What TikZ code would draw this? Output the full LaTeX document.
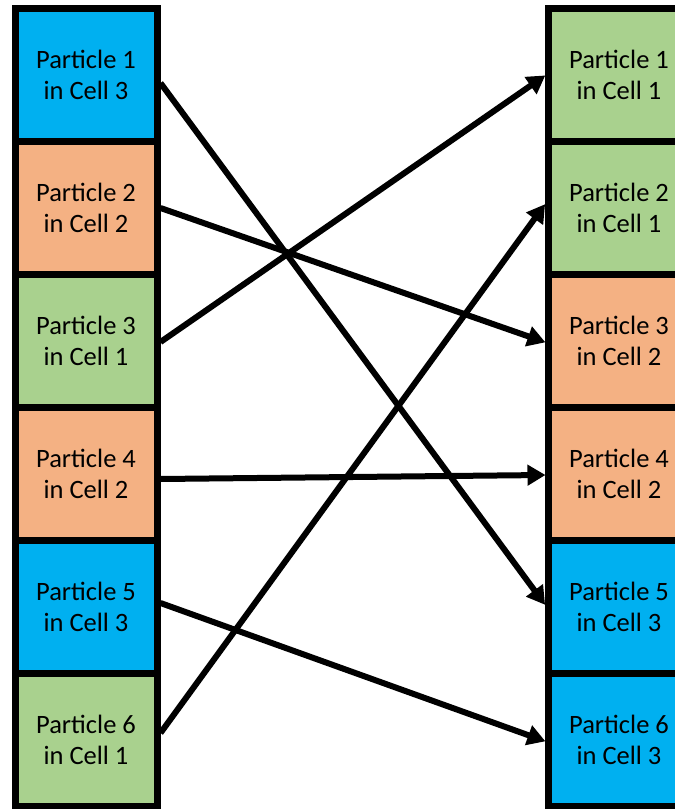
\documentclass[tikz,border=0pt]{standalone}
\usepackage{fontspec}
\setmainfont{Carlito}
\usetikzlibrary{arrows.meta}
\definecolor{cellblue}{RGB}{0,176,240}
\definecolor{cellorange}{RGB}{244,177,131}
\definecolor{cellgreen}{RGB}{169,209,142}
\tikzset{
  cellbox/.style={draw=black, line width=7pt, minimum width=142pt, minimum height=133pt,
    inner sep=0pt, align=center, font=\fontsize{26.5}{31}\selectfont},
  blue cell/.style={cellbox, fill=cellblue},
  orange cell/.style={cellbox, fill=cellorange},
  green cell/.style={cellbox, fill=cellgreen},
  move/.style={line width=6pt, -{Triangle[length=18pt,width=20pt]}, shorten >=-1pt}
}
\begin{document}
\begin{tikzpicture}[x=1pt, y=-1pt]
\useasboundingbox (0,0) rectangle (675,809);
\clip (0,0) rectangle (675,809);
% sorted-by-particle column
\node[blue cell]   (L1) at (86,75)  {Particle 1\\in Cell 3};
\node[orange cell] (L2) at (86,208) {Particle 2\\in Cell 2};
\node[green cell]  (L3) at (86,341) {Particle 3\\in Cell 1};
\node[orange cell] (L4) at (86,474) {Particle 4\\in Cell 2};
\node[blue cell]   (L5) at (86,607) {Particle 5\\in Cell 3};
\node[green cell]  (L6) at (86,740) {Particle 6\\in Cell 1};
% sorted-by-cell column
\node[green cell]  (R1) at (619,75)  {Particle 1\\in Cell 1};
\node[green cell]  (R2) at (619,208) {Particle 2\\in Cell 1};
\node[orange cell] (R3) at (619,341) {Particle 3\\in Cell 2};
\node[orange cell] (R4) at (619,474) {Particle 4\\in Cell 2};
\node[blue cell]   (R5) at (619,607) {Particle 5\\in Cell 3};
\node[blue cell]   (R6) at (619,740) {Particle 6\\in Cell 3};
% reordering arrows
\draw[move] ([yshift=-8pt]L1.east) -- ([yshift=3pt]R5.west);
\draw[move] (L2.east) -- ([yshift=-1pt]R3.west);
\draw[move] ([yshift=-1pt]L3.east) -- ([yshift=-1pt]R1.west);
\draw[move] ([yshift=-5pt]L4.east) -- ([yshift=-1pt]R4.west);
\draw[move] ([yshift=4pt]L5.east) -- ([yshift=-1pt]R6.west);
\draw[move] ([yshift=7pt]L6.east) -- ([yshift=3pt]R2.west);
\end{tikzpicture}
\end{document}
